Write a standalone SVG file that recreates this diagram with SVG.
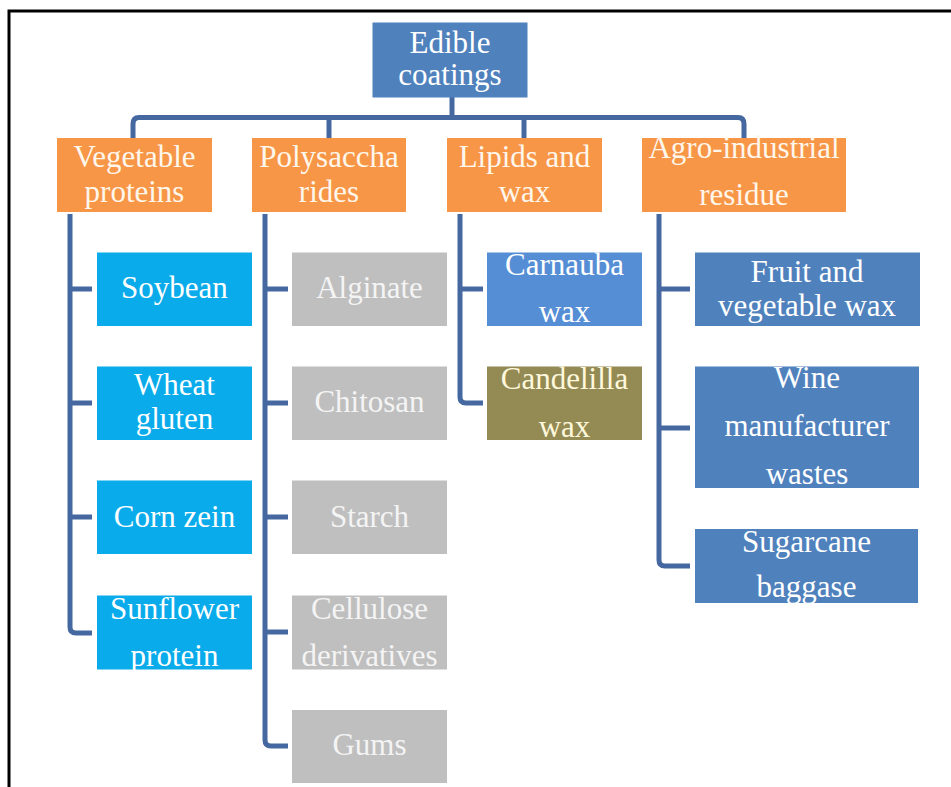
<svg xmlns="http://www.w3.org/2000/svg" width="951" height="787" viewBox="0 0 951 787">
<style>
text{font-family:"Liberation Serif","Times New Roman",serif;font-size:31px;fill:#ffffff;text-anchor:middle}
.root{fill:#4F81BD}
.cat{fill:#F79646}
.veg{fill:#0AABEA}
.poly{fill:#BFBFBF}
.carn{fill:#558ED5}
.cand{fill:#948A54}
.agro{fill:#4F81BD}
.cat text{fill:#FFF6EC}
.cand-t{fill:#FFF8DC}
.poly-t{fill:#F4F4F4}
#connectors path{fill:none;stroke:#4568A0;stroke-width:5;stroke-linejoin:round;stroke-linecap:butt}
</style>
<rect width="951" height="787" fill="#ffffff"/>
<path d="M9 787 V11 H951" fill="none" stroke="#000000" stroke-width="3"/>
<g id="connectors">
<path d="M452 97 V117.5"/>
<path d="M133 138 V124 Q133 117.5 139 117.5 H738 Q744 117.5 744 124 V138"/>
<path d="M329 117.5 V138"/>
<path d="M524 117.5 V138"/>
<path d="M70 214 V627 Q70 633 76 633 H92"/>
<path d="M70 289 H92 M70 403 H92 M70 517 H92"/>
<path d="M265 214 V740 Q265 746 271 746 H288"/>
<path d="M265 289 H288 M265 403 H288 M265 517 H288 M265 632 H288"/>
<path d="M460 214 V397 Q460 403 466 403 H483"/>
<path d="M460 289 H483"/>
<path d="M659 214 V560 Q659 566 665 566 H690"/>
<path d="M659 289 H690 M659 428 H690"/>
</g>
<g id="n-root"><rect class="root" x="372.5" y="22.5" width="155" height="75"/><text x="450" y="53">Edible</text><text x="450" y="85">coatings</text></g>
<g id="n-vegprot" class="cat"><rect x="57" y="138" width="155" height="74"/><text x="134.5" y="167">Vegetable</text><text x="134.5" y="202">proteins</text></g>
<g id="n-polysac" class="cat"><rect x="252" y="138" width="154" height="74"/><text x="329" y="167">Polysaccha</text><text x="329" y="202">rides</text></g>
<g id="n-lipids" class="cat"><rect x="447" y="138" width="155" height="74"/><text x="524.5" y="167">Lipids and</text><text x="524.5" y="202">wax</text></g>
<g id="n-agro" class="cat"><rect x="642" y="138" width="204" height="74"/><text x="744" y="158">Agro-industrial</text><text x="744" y="205">residue</text></g>
<g id="n-soybean"><rect class="veg" x="97" y="252.5" width="155" height="73.5"/><text x="174.5" y="298">Soybean</text></g>
<g id="n-wheat"><rect class="veg" x="97" y="366.5" width="155" height="73.5"/><text x="174.5" y="395">Wheat</text><text x="174.5" y="429">gluten</text></g>
<g id="n-corn"><rect class="veg" x="97" y="480.5" width="155" height="73.5"/><text x="174.5" y="527">Corn zein</text></g>
<g id="n-sunflower"><rect class="veg" x="97" y="595.5" width="155" height="74"/><text x="174.5" y="619">Sunflower</text><text x="174.5" y="666">protein</text></g>
<g id="n-alginate"><rect class="poly" x="292" y="252.5" width="155" height="73.5"/><text class="poly-t" x="369.5" y="298">Alginate</text></g>
<g id="n-chitosan"><rect class="poly" x="292" y="366.5" width="155" height="73.5"/><text class="poly-t" x="369.5" y="412">Chitosan</text></g>
<g id="n-starch"><rect class="poly" x="292" y="480.5" width="155" height="73.5"/><text class="poly-t" x="369.5" y="527">Starch</text></g>
<g id="n-cellulose"><rect class="poly" x="292" y="595.5" width="155" height="74"/><text class="poly-t" x="369.5" y="619">Cellulose</text><text class="poly-t" x="369.5" y="666">derivatives</text></g>
<g id="n-gums"><rect class="poly" x="292" y="710" width="155" height="73"/><text class="poly-t" x="369.5" y="755">Gums</text></g>
<g id="n-carnauba"><rect class="carn" x="487" y="252.5" width="155" height="73.5"/><text x="564.5" y="275">Carnauba</text><text x="564.5" y="322">wax</text></g>
<g id="n-candelilla"><rect class="cand" x="487" y="366.5" width="155" height="73.5"/><text class="cand-t" x="564.5" y="389">Candelilla</text><text class="cand-t" x="564.5" y="437">wax</text></g>
<g id="n-fruit"><rect class="agro" x="695" y="252.5" width="225" height="73.5"/><text x="807" y="282">Fruit and</text><text x="807" y="316">vegetable wax</text></g>
<g id="n-wine"><rect class="agro" x="695" y="366.5" width="224" height="121.5"/><text x="807" y="388">Wine</text><text x="807" y="436">manufacturer</text><text x="807" y="484">wastes</text></g>
<g id="n-sugarcane"><rect class="agro" x="695" y="529" width="223" height="74"/><text x="806.5" y="552">Sugarcane</text><text x="806.5" y="597">baggase</text></g>
</svg>
